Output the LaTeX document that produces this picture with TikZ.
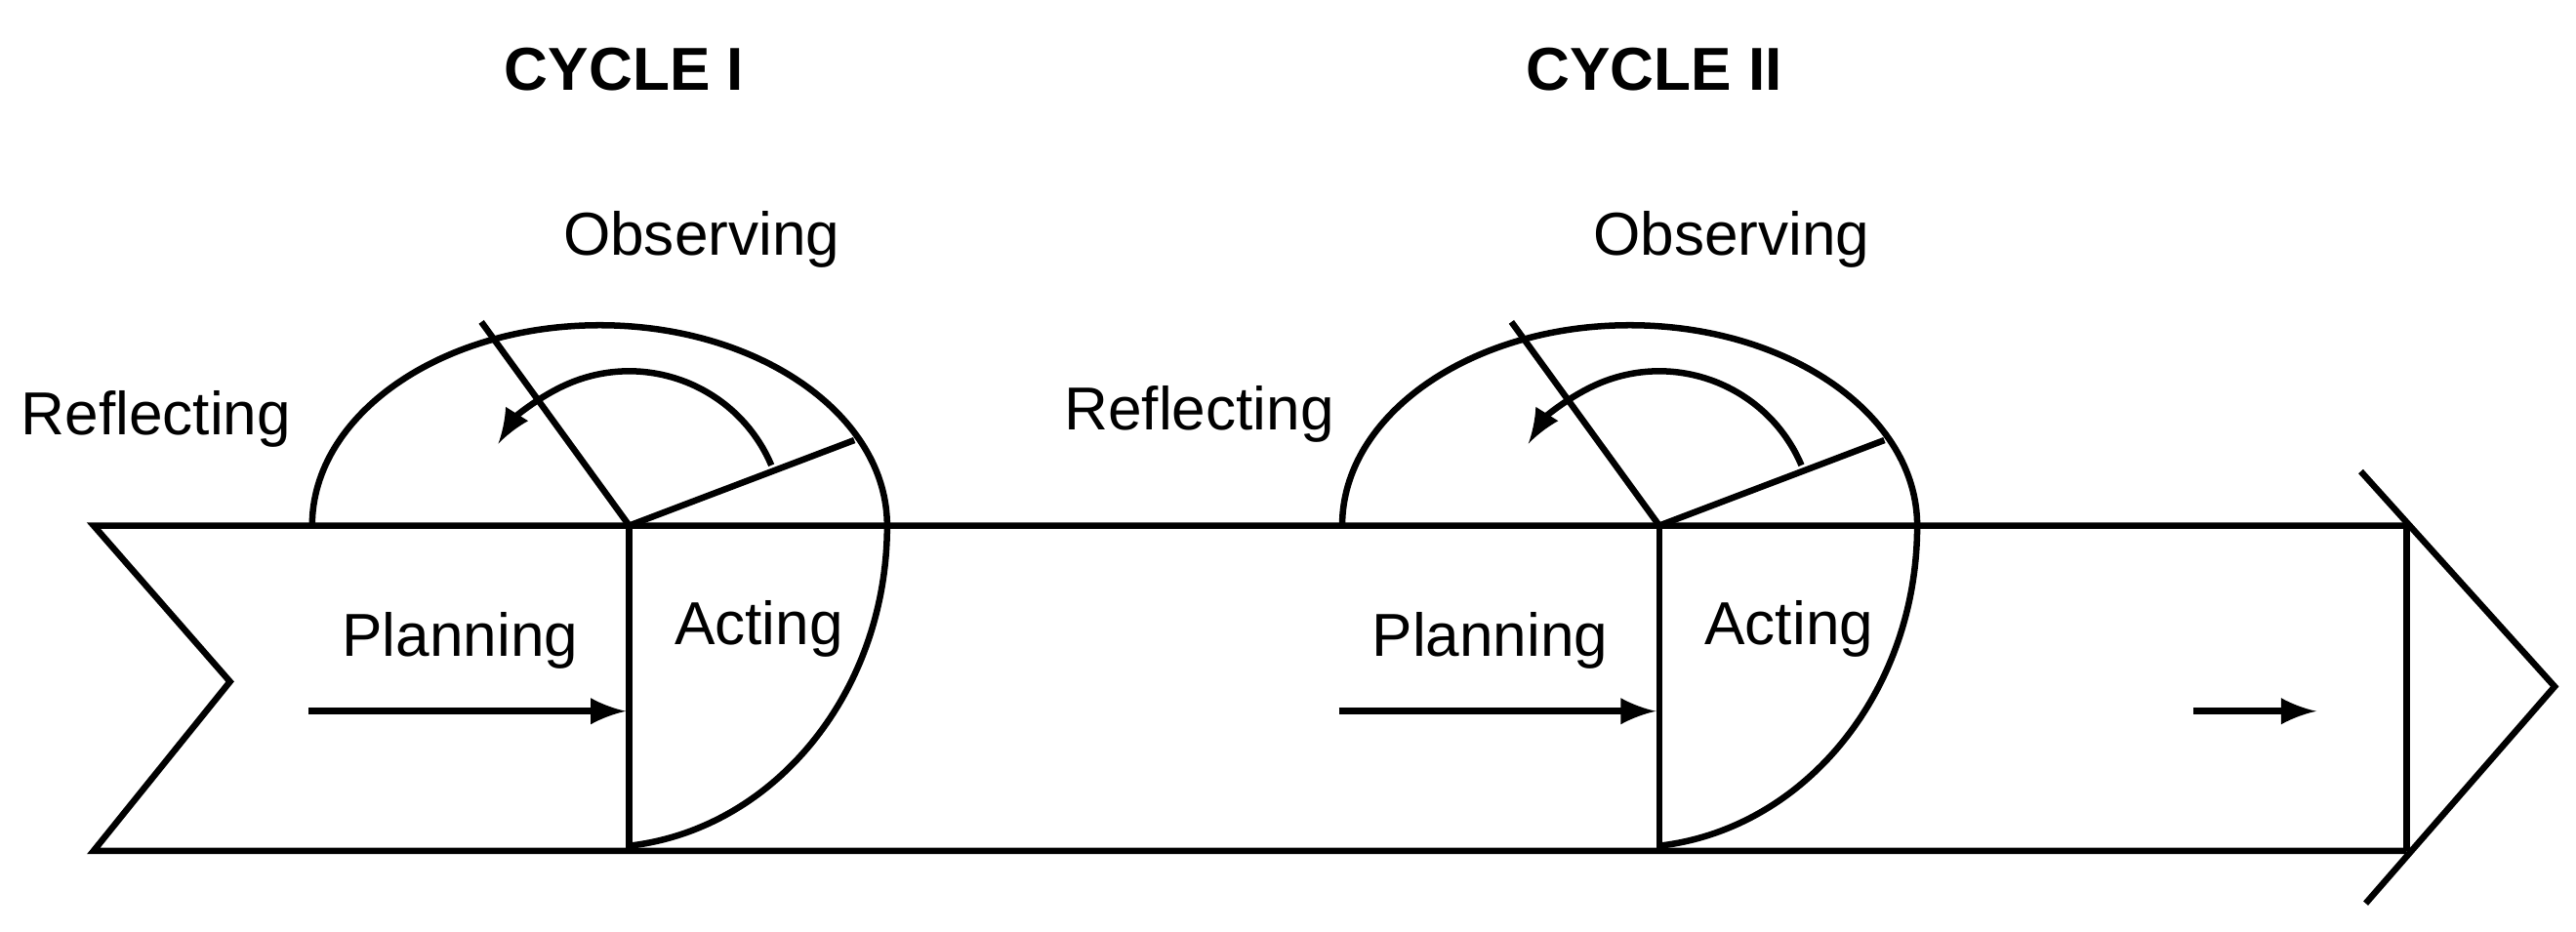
\documentclass[tikz,border=0pt]{standalone}
\usepackage{fontspec}
\setmainfont{Liberation Sans}
\usetikzlibrary{calc,positioning}

\begin{document}
\begin{tikzpicture}[x=0.01cm,y=-0.01cm,line width=1.1pt,>=latex,
        every node/.style={inner sep=0.5mm, font=\fontsize{10.5}{13}\selectfont},
        title/.style={font=\bfseries\fontsize{10.5}{13}\selectfont}]
        \useasboundingbox (0,0) rectangle (1568,567);

        % band
        \coordinate (tl) at (57,320);
        \coordinate (notch) at (140,415);
        \coordinate (bl) at (57,518);
        \coordinate (tr) at (1465,320);
        \coordinate (br) at (1465,518);
        \coordinate (tip) at (1555,418);
        \draw (tr) -- (tl) -- (notch) -- (bl) -- (br);
        \draw (tr) -- (br);
        \draw (1437,287) -- (tip) -- (1440,550);

        \foreach \c/\dx in {I/0, II/627} {
            \begin{scope}[xshift=\dx*0.01cm]
            \coordinate (hub\c) at (383,320);
            \coordinate (low\c) at (383,518);
            \draw (hub\c) -- (low\c);
            \draw (190,320) arc[start angle=180, end angle=360, x radius=175, y radius=122]
                arc[start angle=0, end angle=84, x radius=175, y radius=196];
            \draw (hub\c) -- (293,196);
            \draw (hub\c) -- (520,268);
            \draw[->] ($(hub\c)+(-23:94)$) arc[start angle=-23, end angle=-148, radius=94];
            \coordinate (ps\c) at (188,433);
            \coordinate (pe\c) at (381,433);
            \draw[->] (ps\c) -- (pe\c);
            \node (plan\c) at (280,390) {Planning};
            \node (act\c) at (462,383) {Acting};
            \node (obs\c) at (427,146) {Observing};
            \node[title] (cyc\c) at (380,42) {CYCLE \c};
            \end{scope}
        }
        \node (reflI) at (95,255) {Reflecting};
        \node (reflII) at (730,252) {Reflecting};

        \coordinate (ms) at (1335,433);
        \coordinate (me) at (1410,433);
        \draw[->] (ms) -- (me);
\end{tikzpicture}
\end{document}
